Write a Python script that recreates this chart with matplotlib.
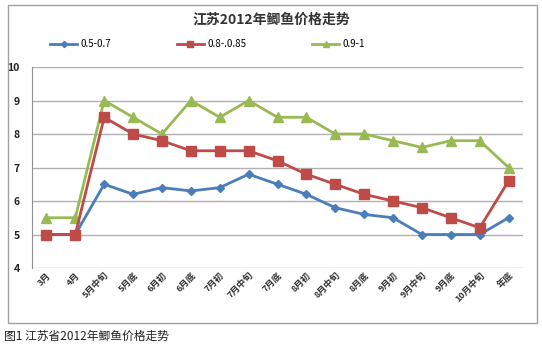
import matplotlib.pyplot as plt
from matplotlib.patches import Rectangle

plt.rcParams['font.family'] = ['Noto Sans CJK SC', 'DejaVu Sans']

periods = ['3月', '4月', '5月中旬', '5月底', '6月初', '6月底', '7月初', '7月中旬',
           '7月底', '8月初', '8月中旬', '8月底', '9月初', '9月中旬', '9月底',
           '10月中旬', '年底']
small = [5.0, 5.0, 6.5, 6.2, 6.4, 6.3, 6.4, 6.8, 6.5, 6.2, 5.8, 5.6, 5.5, 5.0, 5.0, 5.0, 5.5]
medium = [5.0, 5.0, 8.5, 8.0, 7.8, 7.5, 7.5, 7.5, 7.2, 6.8, 6.5, 6.2, 6.0, 5.8, 5.5, 5.2, 6.6]
large = [5.5, 5.5, 9.0, 8.5, 8.0, 9.0, 8.5, 9.0, 8.5, 8.5, 8.0, 8.0, 7.8, 7.6, 7.8, 7.8, 7.0]
series_names = ['0.5-0.7', '0.8-.0.85', '0.9-1']

fig = plt.figure(figsize=(5.42, 3.46), dpi=100)
ax = fig.add_axes([0.059, 0.2254, 0.906, 0.5809])

x = range(len(periods))
ax.plot(x, small, color='#4A7EBB', lw=2, marker='D', ms=4.5, label=series_names[0], zorder=3)
ax.plot(x, medium, color='#BE4B48', lw=2, marker='s', ms=6.5, label=series_names[1], zorder=4)
ax.plot(x, large, color='#98B954', lw=2, marker='^', ms=6.5, label=series_names[2], zorder=2)

ax.set_xlim(-0.5, len(periods) - 0.5)
ax.set_ylim(4, 10)
ax.set_yticks(range(4, 11))
ax.yaxis.grid(True, color='#b0b0b0', lw=1)
ax.set_axisbelow(True)
for side in ('top', 'right', 'bottom'):
    ax.spines[side].set_visible(False)
ax.spines['left'].set_color('#909090')
ax.tick_params(axis='y', length=0, pad=9, labelsize=7.5, colors='#222222')
ax.tick_params(axis='x', length=0, pad=2, labelsize=6.5, colors='#333333')
ax.set_xticks(list(x))
ax.set_xticklabels(periods, rotation=45, ha='right', rotation_mode='anchor', fontweight='bold')
for lbl in ax.get_yticklabels():
    lbl.set_fontweight('bold')

fig.text(0.5, 0.945, '江苏2012年鲫鱼价格走势', ha='center', va='center',
         fontsize=10, fontweight='bold', color='#333333')
fig.legend(loc='center left', bbox_to_anchor=(50 / 542, 0.873), ncol=3, frameon=False,
           fontsize=7, columnspacing=6.8, handlelength=2.8, handletextpad=0.3,
           markerscale=0.7, borderaxespad=0, borderpad=0)

fig.add_artist(Rectangle((8 / 542, 1 - 323 / 346), 529 / 542, 318 / 346,
                         transform=fig.transFigure, fill=False,
                         edgecolor='#a0a0a0', lw=1))
fig.text(4 / 542, 1 - 336 / 346, '图1 江苏省2012年鲫鱼价格走势', ha='left', va='center',
         fontsize=8.5, color='#222222')

fig.savefig('out.png', dpi=100)
